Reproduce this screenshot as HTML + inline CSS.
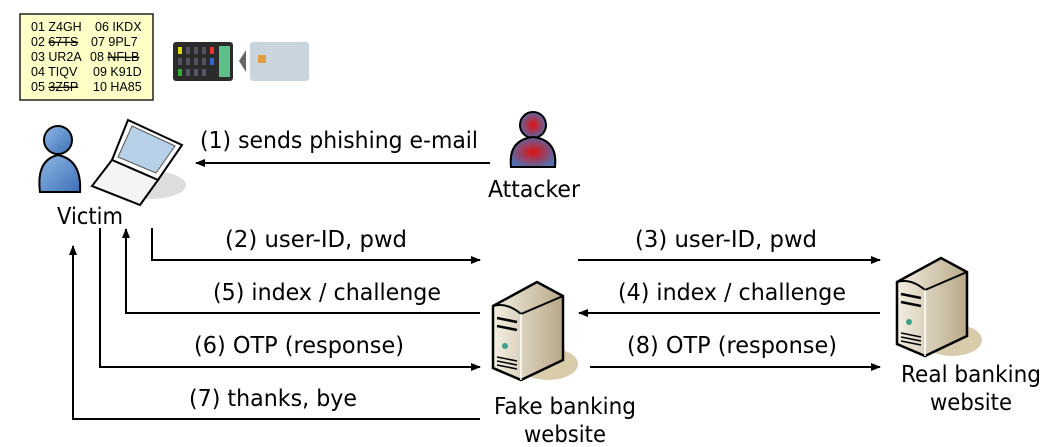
<!DOCTYPE html>
<html><head><meta charset="utf-8"><style>
html,body{margin:0;padding:0;background:#fff;}
svg{display:block;font-family:"DejaVu Sans","Liberation Sans",sans-serif;}
</style></head><body>
<svg width="1056" height="447" viewBox="0 0 1056 447" xmlns="http://www.w3.org/2000/svg">
<defs>
<marker id="ah" markerWidth="10" markerHeight="8" refX="9" refY="4" orient="auto" markerUnits="userSpaceOnUse">
<path d="M0,0 L10,4 L0,8 Z" fill="#000"/></marker>
<radialGradient id="red" cx="0.5" cy="0.5" r="0.55"><stop offset="0" stop-color="#e01010"/><stop offset="1" stop-color="#5070b0"/></radialGradient>
<linearGradient id="blue" x1="0" y1="0" x2="1" y2="1"><stop offset="0" stop-color="#8fb8e8"/><stop offset="1" stop-color="#3d6fb5"/></linearGradient>
<linearGradient id="srv" x1="0" y1="0" x2="1" y2="0"><stop offset="0" stop-color="#f4efe2"/><stop offset="1" stop-color="#b8a888"/></linearGradient>
<g id="server">
<ellipse cx="55" cy="82" rx="30" ry="16" fill="#d9ccaa"/>
<path d="M0,24 L44,0 L70,14 L70,78 L28,98 L0,86 Z" fill="url(#srv)" stroke="#000" stroke-width="2.5"/>
<path d="M0,24 Q14,20 28,32 L70,14" fill="none" stroke="#000" stroke-width="2"/>
<path d="M28,32 L28,98" stroke="#fff" stroke-width="1.5"/>
<path d="M4,36 L24,40 M4,44 L24,48" stroke="#000" stroke-width="2.5"/>
<circle cx="12" cy="64" r="3" fill="#3aa08a"/>
<path d="M4,75 L24,79 M4,79 L24,83 M4,83 L24,87" stroke="#000" stroke-width="1.5"/>
</g>
</defs>
<rect x="20" y="14" width="133" height="86" fill="#ffffc8" stroke="#222" stroke-width="1.5"/>
<g font-size="12.5" fill="#000" font-family="Liberation Sans, sans-serif">
<text x="31" y="31">01 Z4GH</text><text x="95" y="31">06 IKDX</text>
<text x="31" y="46">02 <tspan text-decoration="line-through">67TS</tspan></text><text x="91" y="46">07 9PL7</text>
<text x="31" y="61">03 UR2A</text><text x="90" y="61">08 <tspan text-decoration="line-through">NFLB</tspan></text>
<text x="31" y="76">04 TIQV</text><text x="93" y="76">09 K91D</text>
<text x="31" y="91">05 <tspan text-decoration="line-through">3Z5P</tspan></text><text x="93" y="91">10 HA85</text>
</g>
<rect x="173" y="42" width="60" height="39" rx="3" fill="#2b2b2b"/>
<rect x="219" y="46" width="11" height="31" fill="#5fbf8a"/>
<g fill="#556"><rect x="178" y="47" width="4" height="7" fill="#dd0"/><rect x="186" y="47" width="4" height="7"/><rect x="194" y="47" width="4" height="7"/><rect x="202" y="47" width="4" height="7"/><rect x="210" y="47" width="4" height="7" fill="#e33"/>
<rect x="178" y="58" width="4" height="7"/><rect x="186" y="58" width="4" height="7"/><rect x="194" y="58" width="4" height="7"/><rect x="202" y="58" width="4" height="7"/><rect x="210" y="58" width="4" height="7" fill="#36c"/>
<rect x="178" y="69" width="4" height="7" fill="#3a3"/><rect x="186" y="69" width="4" height="7"/><rect x="194" y="69" width="4" height="7"/><rect x="202" y="69" width="4" height="7"/></g>
<path d="M246,50 L239,61 L246,72 Z" fill="#666"/>
<rect x="250" y="42" width="59" height="39" rx="3" fill="#c9d4dc"/>
<rect x="258" y="55" width="8" height="8" fill="#e0a040"/>
<circle cx="58" cy="140" r="14" fill="url(#blue)" stroke="#000" stroke-width="2"/>
<path d="M40,192 Q36,160 58,155 Q82,160 80,192 Z" fill="url(#blue)" stroke="#000" stroke-width="2"/>
<ellipse cx="150" cy="185" rx="36" ry="14" fill="#ddd"/>
<path d="M128,120 L182,145 L158,180 L112,160 Z" fill="#fff" stroke="#000" stroke-width="2"/>
<path d="M132,126 L175,146 L156,173 L118,157 Z" fill="#b8d0e8" stroke="#555"/>
<path d="M112,160 L158,180 L140,205 L92,186 Z" fill="#f4f4f4" stroke="#000" stroke-width="2"/>
<text x="90" y="224" font-size="23" text-anchor="middle" textLength="66" lengthAdjust="spacingAndGlyphs">Victim</text>
<circle cx="533" cy="125" r="13" fill="url(#red)" stroke="#000" stroke-width="2"/>
<path d="M511,167 Q508,140 533,137 Q558,140 555,167 Z" fill="url(#red)" stroke="#000" stroke-width="2"/>
<text x="534" y="197" font-size="23" text-anchor="middle" textLength="92" lengthAdjust="spacingAndGlyphs">Attacker</text>
<use href="#server" x="493" y="282"/>
<use href="#server" x="897" y="258"/>
<g font-size="23" text-anchor="middle">
<text x="565" y="414" textLength="142" lengthAdjust="spacingAndGlyphs">Fake banking</text>
<text x="565" y="442" textLength="82" lengthAdjust="spacingAndGlyphs">website</text>
<text x="971" y="382" textLength="140" lengthAdjust="spacingAndGlyphs">Real banking</text>
<text x="971" y="410" textLength="82" lengthAdjust="spacingAndGlyphs">website</text>
</g>
<g stroke="#000" stroke-width="2" fill="none" marker-end="url(#ah)">
<path d="M490,163 L196,163"/>
<path d="M152,228 L152,260 L480,260"/>
<path d="M480,313 L126,313 L126,229"/>
<path d="M100,228 L100,367 L480,367"/>
<path d="M480,419 L73,419 L73,246"/>
<path d="M578,260 L880,260"/>
<path d="M880,313 L579,313"/>
<path d="M590,367 L880,367"/>
</g>
<g font-size="23" text-anchor="middle">
<text x="339" y="148" textLength="278" lengthAdjust="spacingAndGlyphs">(1) sends phishing e-mail</text>
<text x="316" y="247" textLength="182" lengthAdjust="spacingAndGlyphs">(2) user-ID, pwd</text>
<text x="327" y="300" textLength="228" lengthAdjust="spacingAndGlyphs">(5) index / challenge</text>
<text x="299" y="353" textLength="210" lengthAdjust="spacingAndGlyphs">(6) OTP (response)</text>
<text x="273" y="406" textLength="168" lengthAdjust="spacingAndGlyphs">(7) thanks, bye</text>
<text x="726" y="247" textLength="182" lengthAdjust="spacingAndGlyphs">(3) user-ID, pwd</text>
<text x="732" y="300" textLength="228" lengthAdjust="spacingAndGlyphs">(4) index / challenge</text>
<text x="732" y="353" textLength="210" lengthAdjust="spacingAndGlyphs">(8) OTP (response)</text>
</g>
</svg>
</body></html>
